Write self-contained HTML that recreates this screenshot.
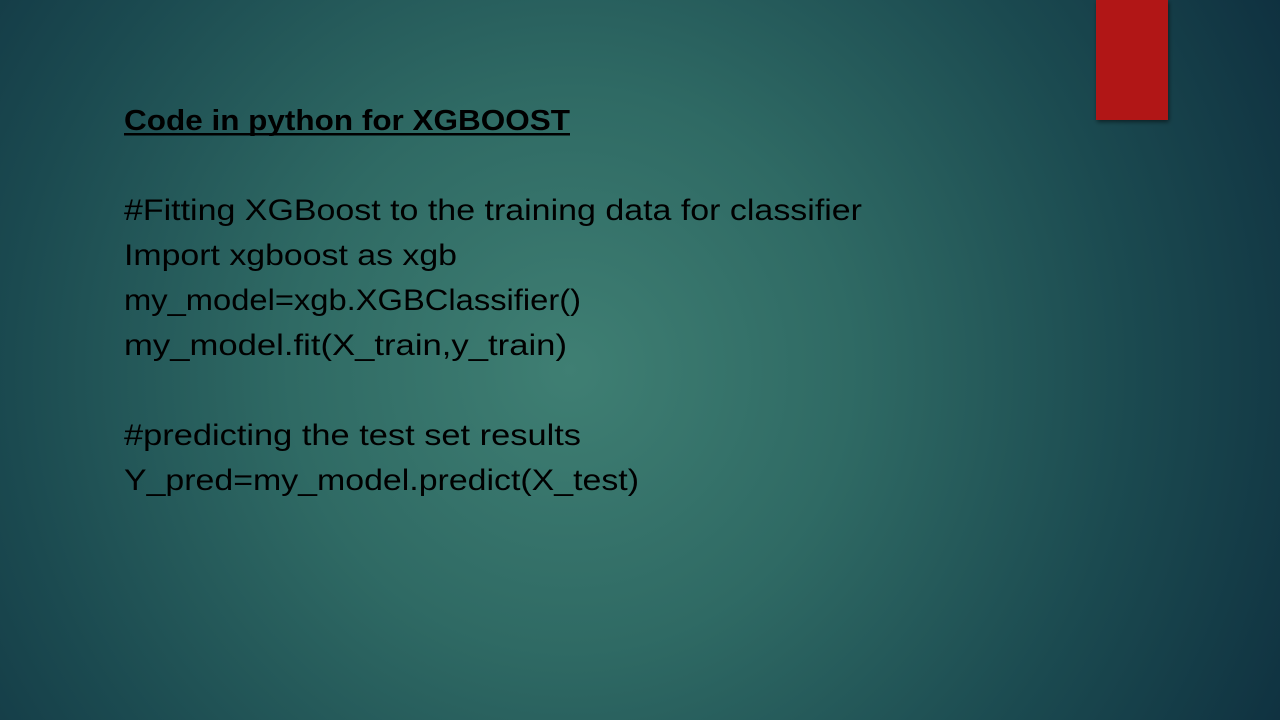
<!DOCTYPE html>
<html><head><meta charset="utf-8"><style>
html,body{margin:0;padding:0;width:1280px;height:720px;overflow:hidden}
</style></head><body>
<svg width="1280" height="720" xmlns="http://www.w3.org/2000/svg">
<defs>
<radialGradient id="bg" cx="570" cy="370" r="800" gradientUnits="userSpaceOnUse">
<stop offset="0" stop-color="#3f7f73"/>
<stop offset="0.35" stop-color="#2f6a64"/>
<stop offset="0.7" stop-color="#1b4a50"/>
<stop offset="1" stop-color="#0f3140"/>
</radialGradient>
<filter id="sh" x="-20%" y="-20%" width="140%" height="140%"><feDropShadow dx="1" dy="2" stdDeviation="2" flood-opacity="0.5"/></filter>
</defs>
<rect width="1280" height="720" fill="url(#bg)"/>
<rect x="1096" y="0" width="72" height="120" fill="#b11714" filter="url(#sh)"/>
<g font-family="Liberation Sans, sans-serif" fill="#000">
<text x="124" y="130" font-size="29" font-weight="bold" textLength="446" lengthAdjust="spacingAndGlyphs">Code in python for XGBOOST</text>
<rect x="124" y="133" width="446" height="2.5" fill="#000"/>
<g font-size="30">
<text x="124" y="220" textLength="738" lengthAdjust="spacingAndGlyphs">#Fitting XGBoost to the training data for classifier</text>
<text x="124" y="265" textLength="333" lengthAdjust="spacingAndGlyphs">Import xgboost as xgb</text>
<text x="124" y="310" textLength="457" lengthAdjust="spacingAndGlyphs">my_model=xgb.XGBClassifier()</text>
<text x="124" y="355" textLength="443" lengthAdjust="spacingAndGlyphs">my_model.fit(X_train,y_train)</text>
<text x="124" y="445" textLength="457" lengthAdjust="spacingAndGlyphs">#predicting the test set results</text>
<text x="124" y="490" textLength="515" lengthAdjust="spacingAndGlyphs">Y_pred=my_model.predict(X_test)</text>
</g>
</g>
</svg>
</body></html>
